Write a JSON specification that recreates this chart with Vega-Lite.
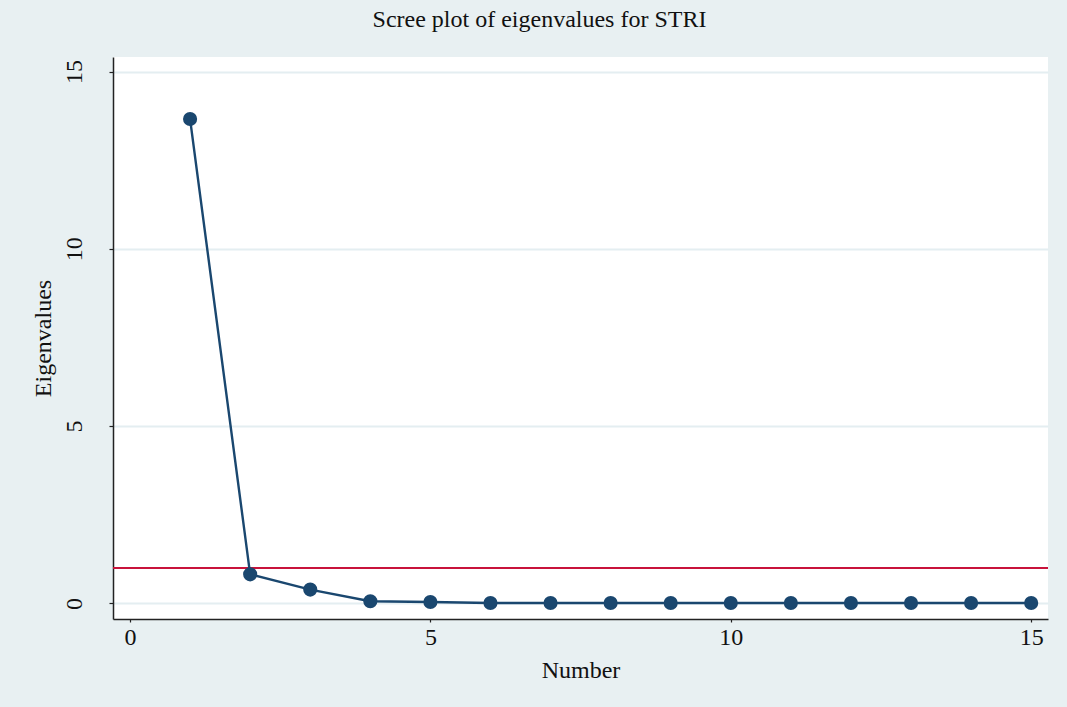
{
  "$schema": "https://vega.github.io/schema/vega-lite/v6.json",
  "autosize": {"type": "none"},
  "width": 935,
  "height": 562,
  "padding": {"left": 113, "top": 57, "right": 19, "bottom": 88},
  "background": "#e8f0f2",
  "title": {
    "text": "Scree plot of eigenvalues  for STRI",
    "font": "Liberation Serif",
    "fontSize": 24,
    "fontWeight": "normal",
    "color": "#111111",
    "anchor": "middle",
    "baseline": "alphabetic",
    "offset": 6,
    "dx": -41
  },
  "config": {
    "view": {"fill": "#ffffff", "stroke": null},
    "axis": {
      "labelFont": "Liberation Serif",
      "titleFont": "Liberation Serif",
      "labelFontSize": 24,
      "titleFontSize": 24,
      "titleFontWeight": "normal",
      "labelColor": "#111111",
      "titleColor": "#111111",
      "domainColor": "#222222",
      "domainWidth": 1.5,
      "tickColor": "#222222",
      "tickWidth": 1.2
    }
  },
  "data": {
    "values": [
      {"Number": 1, "Eigenvalue": 13.66},
      {"Number": 2, "Eigenvalue": 0.82},
      {"Number": 3, "Eigenvalue": 0.39},
      {"Number": 4, "Eigenvalue": 0.06},
      {"Number": 5, "Eigenvalue": 0.04},
      {"Number": 6, "Eigenvalue": 0.01},
      {"Number": 7, "Eigenvalue": 0.01},
      {"Number": 8, "Eigenvalue": 0.01},
      {"Number": 9, "Eigenvalue": 0.01},
      {"Number": 10, "Eigenvalue": 0.01},
      {"Number": 11, "Eigenvalue": 0.01},
      {"Number": 12, "Eigenvalue": 0.01},
      {"Number": 13, "Eigenvalue": 0.01},
      {"Number": 14, "Eigenvalue": 0.01},
      {"Number": 15, "Eigenvalue": 0.01}
    ]
  },
  "encoding": {
    "x": {
      "field": "Number",
      "type": "quantitative",
      "scale": {"domain": [-0.283, 15.28], "nice": false, "zero": false},
      "axis": {
        "title": "Number",
        "values": [0, 5, 10, 15],
        "grid": false,
        "tickSize": 3,
        "labelPadding": 3,
        "titlePadding": 9,
        "labelFlush": false
      }
    },
    "y": {
      "field": "Eigenvalue",
      "type": "quantitative",
      "scale": {"domain": [-0.44, 15.41], "nice": false, "zero": false},
      "axis": {
        "title": "Eigenvalues",
        "values": [0, 5, 10, 15],
        "grid": true,
        "gridColor": "#e4eef1",
        "gridWidth": 2,
        "tickSize": 4,
        "labelAngle": -90,
        "labelAlign": "center",
        "labelBaseline": "bottom",
        "labelPadding": 23,
        "titlePadding": 7,
        "labelFlush": false
      }
    }
  },
  "layer": [
    {
      "mark": {"type": "rule", "color": "#c8133b", "strokeWidth": 2},
      "encoding": {"y": {"datum": 1}, "x": null}
    },
    {
      "mark": {"type": "line", "color": "#1a476f", "strokeWidth": 2.4}
    },
    {
      "mark": {"type": "point", "filled": true, "size": 200, "opacity": 1, "color": "#1a476f"}
    }
  ]
}
